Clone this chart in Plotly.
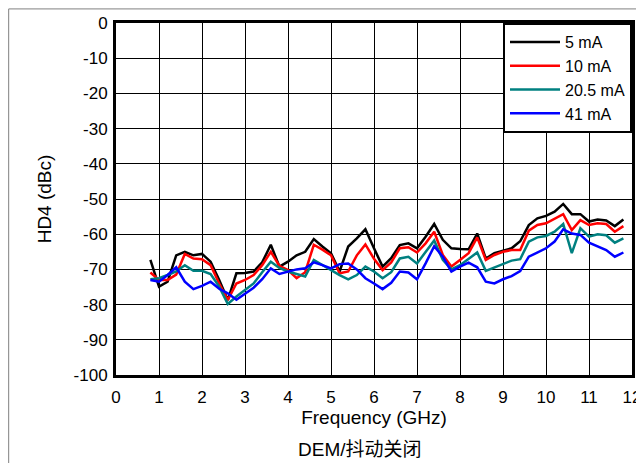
import plotly.graph_objects as go

freq_ghz = [round(0.8 + 0.2 * i, 1) for i in range(56)]

hd4_5ma = [-67.3, -74.9, -73.5, -66.0, -65.0, -66.0, -65.6, -67.8, -73.0, -78.7,
           -71.1, -71.0, -70.6, -68.0, -63.0, -69.2, -67.8, -66.0, -65.0, -61.4,
           -63.5, -65.4, -70.6, -63.5, -61.2, -58.6, -64.0, -69.2, -66.8, -63.1,
           -62.6, -64.0, -60.7, -57.1, -61.6, -64.0, -64.2, -64.3, -59.8, -66.9,
           -65.4, -64.8, -64.0, -62.0, -57.4, -55.5, -54.8, -53.6, -51.4, -54.3,
           -54.3, -56.4, -55.8, -56.1, -57.7, -55.8]

hd4_10ma = [-70.9, -73.0, -73.0, -71.5, -65.6, -66.9, -67.1, -68.8, -74.0, -78.7,
            -74.0, -73.0, -71.6, -68.8, -65.0, -69.0, -70.2, -72.5, -70.8, -63.0,
            -64.4, -66.0, -71.1, -70.6, -66.0, -62.9, -67.0, -70.2, -68.0, -64.0,
            -63.7, -65.2, -62.6, -59.3, -65.9, -69.2, -67.3, -65.4, -60.9, -67.3,
            -65.9, -65.0, -64.5, -64.5, -59.0, -57.4, -56.9, -55.5, -54.3, -58.8,
            -56.0, -57.4, -56.9, -57.1, -59.3, -57.7]

hd4_20ma = [-72.8, -72.5, -71.6, -70.6, -68.8, -70.4, -70.4, -71.3, -74.9, -79.8,
            -77.7, -75.9, -74.0, -70.8, -67.8, -69.6, -70.6, -71.3, -72.0, -67.3,
            -68.8, -70.2, -71.6, -72.8, -71.6, -69.2, -70.6, -72.5, -70.8, -66.9,
            -66.4, -68.3, -65.0, -61.8, -67.3, -70.0, -68.8, -67.1, -65.2, -70.4,
            -69.4, -68.3, -67.5, -67.1, -62.1, -60.9, -60.5, -59.3, -57.1, -65.4,
            -58.3, -60.7, -60.0, -60.3, -62.4, -61.2]

hd4_41ma = [-73.0, -73.5, -71.6, -69.4, -73.5, -75.6, -74.7, -73.5, -75.5, -76.8,
            -78.6, -76.8, -75.2, -72.8, -69.7, -71.3, -70.6, -70.0, -69.7, -68.0,
            -68.8, -69.7, -68.5, -68.3, -70.0, -72.5, -74.0, -75.6, -73.8, -70.6,
            -70.9, -72.8, -68.3, -63.4, -66.4, -70.6, -69.2, -68.1, -69.4, -73.5,
            -74.0, -72.8, -71.9, -70.5, -66.4, -65.2, -64.0, -62.1, -58.6, -59.8,
            -60.2, -62.4, -63.4, -64.5, -66.4, -65.2]

y_tick_vals = [0, -10, -20, -30, -40, -50, -60, -70, -80, -90, -100]
y_tick_text = ["0", "-10", "-20", "-30", "-40", "-50", "-60", "-70", "-80", "-90", "-100"]
x_tick_vals = list(range(0, 13))

series = [("5 mA", hd4_5ma, "#000000"),
          ("10 mA", hd4_10ma, "#FF0000"),
          ("20.5 mA", hd4_20ma, "#008080"),
          ("41 mA", hd4_41ma, "#0000FF")]

font = "Liberation Sans, Arial, sans-serif"

fig = go.Figure()
for name, vals, color in series:
    fig.add_trace(go.Scatter(x=freq_ghz, y=vals, mode='lines', name=name,
                             line=dict(color=color, width=2.5)))

axis_style = dict(showline=True, mirror=True, linecolor='black', linewidth=3,
                  showgrid=True, gridcolor='black', gridwidth=1, zeroline=False,
                  automargin=False, tickcolor='rgba(0,0,0,0)', ticks='outside',
                  tickfont=dict(size=17, color='black', family=font))

# page body has an 8px margin, so the plot area is shifted back by 8px
fig.update_layout(
    width=644, height=455,
    margin=dict(l=108, r=20, t=15, b=88),
    paper_bgcolor='white', plot_bgcolor='white',
    font=dict(family=font, size=16, color='black'),
    xaxis=dict(range=[0, 12], tickvals=x_tick_vals, ticklen=5,
               title=dict(text='Frequency (GHz)', standoff=2), **axis_style),
    yaxis=dict(range=[-100, 0], tickvals=y_tick_vals, ticktext=y_tick_text, ticklen=2,
               title=dict(text='HD4 (dBc)', standoff=17), **axis_style),
    legend=dict(x=1, y=1, xanchor='right', yanchor='top', bgcolor='white',
                bordercolor='black', borderwidth=2, font=dict(size=16),
                itemwidth=50, tracegroupgap=0),
    showlegend=True,
)

# outer frame lines of the figure panel
fig.add_shape(type='line', xref='paper', yref='paper', x0=-0.208, x1=1.04, y0=1.04, y1=1.04,
              line=dict(color='#808080', width=1))
fig.add_shape(type='line', xref='paper', yref='paper', x0=-0.208, x1=-0.208, y0=1.04, y1=-0.25,
              line=dict(color='#808080', width=1))

fig.add_annotation(text='DEM/抖动关闭', xref='paper', yref='paper', x=0.473, y=-0.213,
                   xanchor='center', yanchor='middle', showarrow=False,
                   font=dict(size=19, family="Liberation Sans, Noto Sans CJK SC, sans-serif"))

fig.write_html("out.html")
